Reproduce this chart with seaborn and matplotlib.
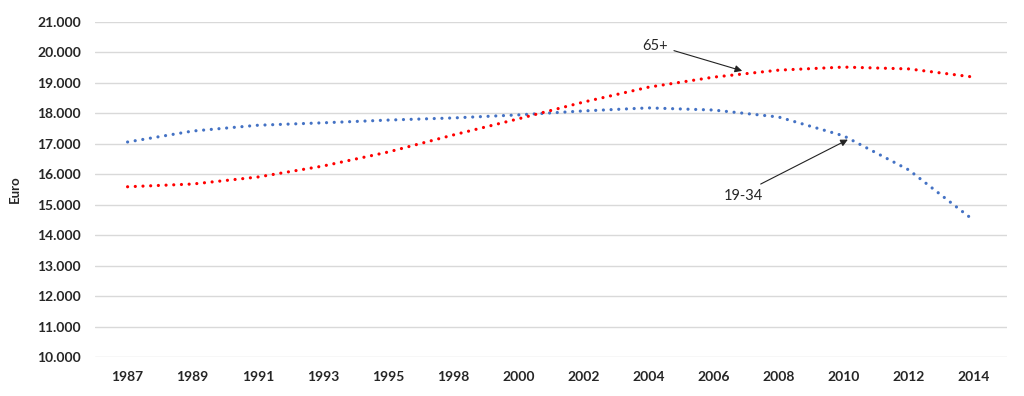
import pandas as pd
import matplotlib
matplotlib.use("Agg")
import matplotlib.pyplot as plt
import seaborn as sns

years = ["1987", "1989", "1991", "1993", "1995", "1998", "2000",
         "2002", "2004", "2006", "2008", "2010", "2012", "2014"]
young = [17060, 17420, 17610, 17690, 17780, 17850, 17950,
         18080, 18180, 18110, 17880, 17260, 16140, 14480]
old = [15590, 15680, 15910, 16270, 16730, 17290, 17820,
       18370, 18860, 19190, 19420, 19520, 19460, 19190]

df = pd.DataFrame({"year": years, "19-34": young, "65+": old})
df["pos"] = range(len(years))

sns.set_theme(style="white")
plt.rcParams["font.family"] = ["Lato", "DejaVu Sans"]

fig = plt.figure(figsize=(10.24, 3.96), dpi=100)
ax = fig.add_axes([0.0928, 0.0985, 0.8902, 0.8459])

for col, color in [("19-34", "#4472C4"), ("65+", "#FF0000")]:
    sns.lineplot(data=df, x="pos", y=col, ax=ax, color=color, lw=2.3,
                 dashes=False, solid_capstyle="round")
    ax.lines[-1].set_dashes([0.01, 2.4])
    ax.lines[-1].set_dash_capstyle("round")

ax.set_xlim(-0.5, len(years) - 0.5)
ax.set_ylim(10000, 21000)
ax.set_xticks(df["pos"])
ax.set_xticklabels(years)
yt = list(range(10000, 21001, 1000))
ax.set_yticks(yt)
ax.set_yticklabels([f"{v // 1000}.000" for v in yt])
ax.yaxis.grid(True, color="#D9D9D9", lw=1)
for s in ax.spines.values():
    s.set_visible(False)
ax.tick_params(length=0, labelsize=10, pad=10)
for lab in ax.get_xticklabels() + ax.get_yticklabels():
    lab.set_fontweight("bold")
ax.set_xlabel("")
ax.set_ylabel("Euro", fontsize=9.5, fontweight="bold", labelpad=12)

ax.annotate("65+", xy=(9.48, 19370), xytext=(8.3, 20210),
            fontsize=10.5, ha="right", va="center",
            arrowprops=dict(arrowstyle="-|>", color="#222222", lw=0.8,
                            relpos=(1, 0.3)))
ax.annotate("19-34", xy=(11.1, 17180), xytext=(9.46, 15530),
            fontsize=10.5, ha="center", va="top",
            arrowprops=dict(arrowstyle="-|>", color="#222222", lw=0.8,
                            relpos=(0.85, 1.2)))

fig.savefig("out.png", dpi=100)
